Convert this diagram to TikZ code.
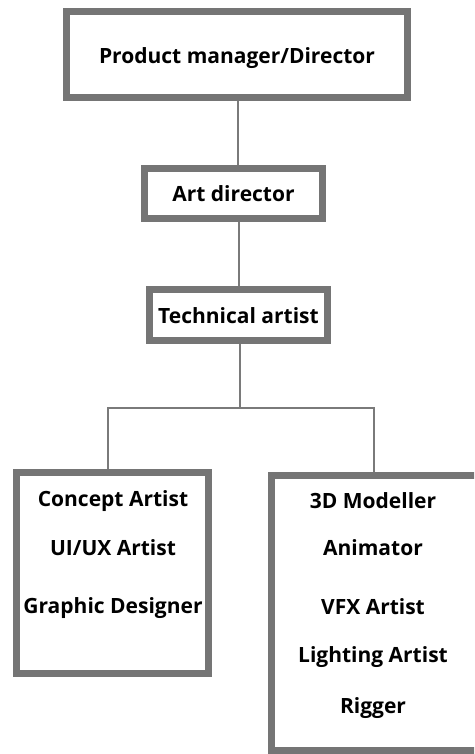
\documentclass[tikz,border=0pt]{standalone}
\usepackage{fontspec}
\setmainfont{Open Sans}
\definecolor{bordergray}{HTML}{757575}
\definecolor{linegray}{HTML}{7A7A7A}
\begin{document}
\begin{tikzpicture}[x=1pt,y=-1pt,
  box/.style={draw=bordergray,line width=7pt,fill=white,inner sep=0pt,anchor=center},
  lbl/.style={font=\fontsize{21}{24}\selectfont\bfseries,inner sep=0pt,anchor=base},
  conn/.style={draw=linegray,line width=2pt}]
\useasboundingbox (0,0) rectangle (474,754);
\clip (0,0) rectangle (474,754);
\coordinate (split) at (240,408);
\node[box,minimum width=341pt,minimum height=86pt] (pm) at (237,54.5) {};
\node[box,minimum width=178pt,minimum height=50pt] (ad) at (233.5,193.5) {};
\node[box,minimum width=178pt,minimum height=51pt] (ta) at (238.5,315) {};
\node[box,minimum width=192pt,minimum height=201pt] (left) at (112.5,573) {};
\node[box,minimum width=214pt,minimum height=275pt] (right) at (378.5,613) {};
\draw[conn] (pm.south -| 238,0) -- (ad.north -| 238,0);
\draw[conn] (ad.south -| 239,0) -- (ta.north -| 239,0);
\draw[conn] (ta.south -| split) -- (split);
\draw[conn] (left.north -| 108,0) |- (split) -| (right.north -| 374,0);
\node[lbl] (tpm) at (237,63.5) {Product manager/Director};
\node[lbl] (tad) at (233.5,201.5) {Art director};
\node[lbl] (tta) at (238.5,323.5) {Technical artist};
\node[lbl] (l1) at (113,506.5) {Concept Artist};
\node[lbl] (l2) at (113,555.5) {UI/UX Artist};
\node[lbl] (l3) at (113,613.5) {Graphic Designer};
\node[lbl] (r1) at (373,508.5) {3D Modeller};
\node[lbl] (r2) at (373,555.5) {Animator};
\node[lbl] (r3) at (373,614.5) {VFX Artist};
\node[lbl] (r4) at (373,662.5) {Lighting Artist};
\node[lbl] (r5) at (373,713.5) {Rigger};
\end{tikzpicture}
\end{document}
